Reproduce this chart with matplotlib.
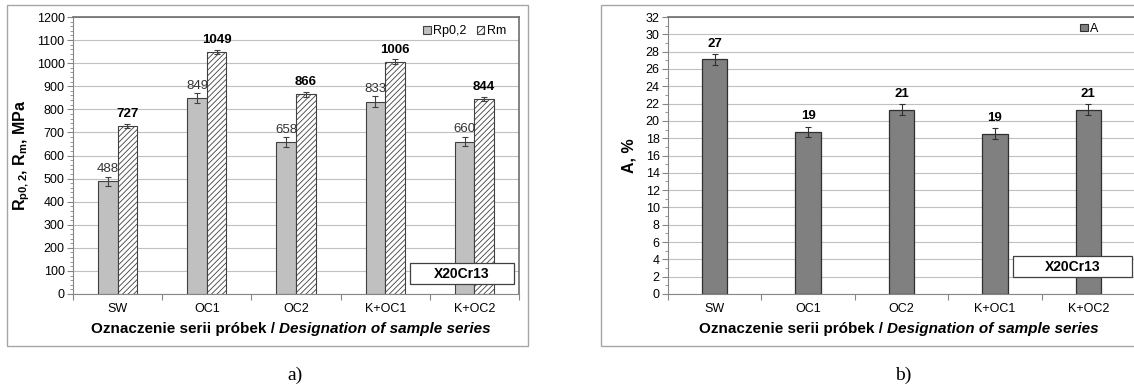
import matplotlib
matplotlib.use('Agg')
import matplotlib.pyplot as plt
import numpy as np
from matplotlib.patches import Patch, Rectangle
from matplotlib.ticker import MultipleLocator, FixedLocator

plt.rcParams['font.family'] = ['Liberation Sans', 'DejaVu Sans']
plt.rcParams['mathtext.fontset'] = 'custom'
plt.rcParams['mathtext.rm'] = 'Liberation Sans'
plt.rcParams['mathtext.bf'] = 'Liberation Sans:bold'
plt.rcParams['hatch.linewidth'] = 0.6

# data
series = ['SW', 'OC1', 'OC2', 'K+OC1', 'K+OC2']
rp02 = [488, 849, 658, 833, 660]
rp02_err = [19, 21, 21, 23, 21]
rm = [727, 1049, 866, 1006, 844]
rm_err = [10, 10, 11, 10, 9]
elong = [27.1, 18.7, 21.3, 18.5, 21.3]
elong_lbl = ['27', '19', '21', '19', '21']
elong_err = [0.65, 0.62, 0.62, 0.65, 0.62]

W, H = 1134, 389
fig = plt.figure(figsize=(W / 100, H / 100), dpi=100)


def px_box(x0, y0, x1, y1):
    return [x0 / W, 1 - y1 / H, (x1 - x0) / W, (y1 - y0) / H]


# outer chart frames
for x0, x1 in [(7, 528), (601, 1140)]:
    fig.patches.append(Rectangle((x0 / W, 1 - 346 / H), (x1 - x0) / W, 341 / H,
                                 transform=fig.transFigure, fill=False,
                                 edgecolor='#a6a6a6', lw=1.0))

ax1 = fig.add_axes(px_box(73, 17, 519, 294))
ax2 = fig.add_axes(px_box(668, 17, 1135, 294))
x = np.arange(len(series))


def style_axes(ax, ymax, major, minor):
    ax.set_xlim(-0.5, len(series) - 0.5)
    ax.set_ylim(0, ymax)
    ax.yaxis.set_major_locator(MultipleLocator(major))
    ax.yaxis.set_minor_locator(MultipleLocator(minor))
    ax.xaxis.set_major_locator(FixedLocator(np.arange(-0.5, len(series) + 0.5)))
    ax.xaxis.set_minor_locator(FixedLocator(x))
    ax.xaxis.set_major_formatter(plt.NullFormatter())
    ax.xaxis.set_minor_formatter(plt.FixedFormatter(series))
    ax.tick_params(axis='x', which='major', length=4, color='#868686')
    ax.tick_params(axis='x', which='minor', length=0, pad=6.5, labelsize=9)
    ax.tick_params(axis='y', which='major', length=4, color='#868686', labelsize=9, pad=2)
    ax.tick_params(axis='y', which='minor', length=2.5, color='#868686')
    ax.grid(axis='y', which='major', color='#c0c0c0', lw=0.8)
    ax.set_axisbelow(True)
    for s in ['left', 'bottom']:
        ax.spines[s].set_color('#868686')
    for s in ['top', 'right']:
        ax.spines[s].set_color('#6e6e6e')
        ax.spines[s].set_linewidth(1.2)


def name_box(ax, x0, x1, y0, y1):
    ax.add_patch(Rectangle((x0, y0), x1 - x0, y1 - y0, transform=ax.transAxes,
                           fc='white', ec='#404040', lw=0.9, zorder=5, clip_on=False))
    ax.text((x0 + x1) / 2, (y0 + y1) / 2, 'X20Cr13', transform=ax.transAxes, fontsize=10,
            fontweight='bold', ha='center', va='center', zorder=6)


def two_part_label(xc_px, y_px):
    t1 = fig.text(0, 1 - y_px / H, 'Oznaczenie serii próbek / ', fontsize=11,
                  fontweight='bold', va='center', ha='left')
    t2 = fig.text(0, 1 - y_px / H, 'Designation of sample series', fontsize=11,
                  fontweight='bold', fontstyle='italic', va='center', ha='left')
    fig.canvas.draw()
    r = fig.canvas.get_renderer()
    w1 = t1.get_window_extent(r).width
    w2 = t2.get_window_extent(r).width
    start = xc_px - (w1 + w2) / 2
    t1.set_x(start / W)
    t2.set_x((start + w1) / W)


# left chart
bw = 0.22
ekw = dict(ecolor='#404040', elinewidth=0.8, capsize=2.5, capthick=0.8)
ax1.bar(x - bw / 2, rp02, bw, color='#c0c0c0', edgecolor='#404040', lw=0.8, yerr=rp02_err, error_kw=ekw)
ax1.bar(x + bw / 2, rm, bw, color='white', edgecolor='#404040', hatch='//////', lw=0.8,
        yerr=rm_err, error_kw=ekw)
for i in range(len(series)):
    ax1.annotate(str(rp02[i]), (x[i] - bw / 2, rp02[i]), xytext=(0, 4.5), textcoords='offset points',
                 ha='center', va='bottom', fontsize=9.5, color='#333333')
    ax1.annotate(str(rm[i]), (x[i] + bw / 2, rm[i]), xytext=(0, 4.5), textcoords='offset points',
                 ha='center', va='bottom', fontsize=9.5, fontweight='bold')
style_axes(ax1, 1200, 100, 20)
ax1.set_ylabel(r'R$_\mathbf{p0,2}$, R$_\mathbf{m}$, MPa', fontsize=11.5, fontweight='bold')
ax1.yaxis.set_label_coords(-0.092, 0.5)
ax1.legend(handles=[Patch(facecolor='#c0c0c0', edgecolor='#404040', lw=0.8),
                    Patch(facecolor='white', edgecolor='#404040', hatch='//////', lw=0.8)],
           labels=['Rp0,2', 'Rm'], loc='center right', bbox_to_anchor=(0.985, 0.948),
           ncol=2, frameon=False, fontsize=9, handlelength=0.6, handleheight=0.6,
           handletextpad=0.2, columnspacing=0.8, borderpad=0)
name_box(ax1, 0.756, 0.989, 0.036, 0.112)

# right chart
bw2 = 0.27
ekw2 = dict(ecolor='#303030', elinewidth=0.8, capsize=2.5, capthick=0.8)
ax2.bar(x, elong, bw2, color='#808080', edgecolor='#303030', lw=0.9, yerr=elong_err, error_kw=ekw2)
for i in range(len(series)):
    ax2.annotate(elong_lbl[i], (x[i], elong[i]), xytext=(0, 7), textcoords='offset points',
                 ha='center', va='bottom', fontsize=9.5, fontweight='bold')
style_axes(ax2, 32, 2, 1)
ax2.spines['right'].set_visible(False)
ax2.set_ylabel('A, %', fontsize=11.5, fontweight='bold')
ax2.yaxis.set_label_coords(-0.0685, 0.5)
ax2.legend(handles=[Patch(facecolor='#808080', edgecolor='#303030', lw=0.8)], labels=['A'],
           loc='center right', bbox_to_anchor=(0.935, 0.957), frameon=False, fontsize=9,
           handlelength=0.6, handleheight=0.6, handletextpad=0.2, borderpad=0)
name_box(ax2, 0.739, 0.994, 0.061, 0.137)

two_part_label(291, 329)
two_part_label(899, 329)

fig.text(295 / W, 1 - 375 / H, 'a)', fontsize=14, family='Liberation Serif', ha='center', va='center')
fig.text(903 / W, 1 - 375 / H, 'b)', fontsize=14, family='Liberation Serif', ha='center', va='center')

fig.savefig('out.png', dpi=100)
